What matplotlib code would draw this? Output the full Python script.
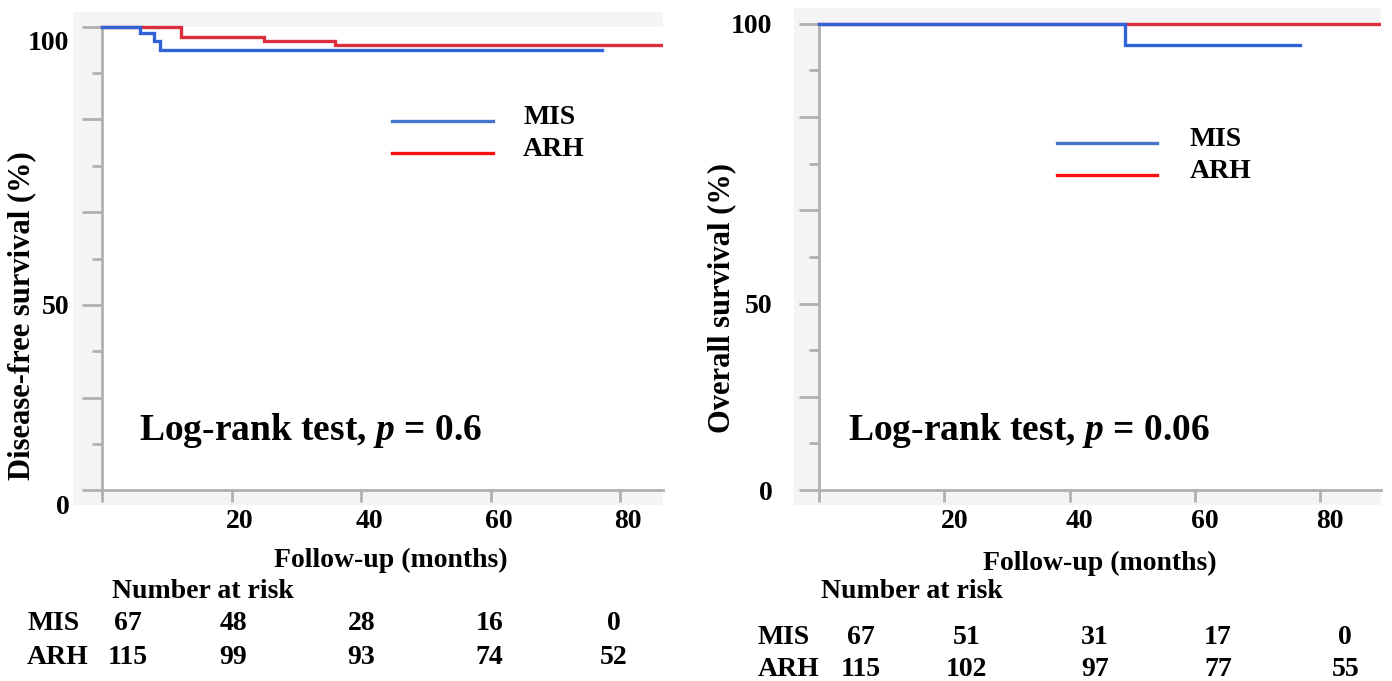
import matplotlib
matplotlib.use("Agg")
import matplotlib.pyplot as plt
from matplotlib.lines import Line2D
from matplotlib.patches import Rectangle
from matplotlib.transforms import ScaledTranslation, blended_transform_factory

plt.rcParams["font.family"] = ["Liberation Serif", "DejaVu Serif"]
plt.rcParams["font.weight"] = "bold"
plt.rcParams["mathtext.fontset"] = "custom"
plt.rcParams["mathtext.it"] = "Liberation Serif:italic:bold"
plt.rcParams["mathtext.rm"] = "Liberation Serif:bold"

# ---- data -------------------------------------------------------------
groups = ["MIS", "ARH"]
risk_times = [0, 20, 40, 60, 80]

# Disease-free survival (left)
dfs_mis_t = [0, 5.8, 8.0, 9.0, 77.2]
dfs_mis_s = [100, 98.6, 97.0, 95.0, 95.0]
dfs_arh_t = [0, 12.2, 25.0, 36.0, 86.6]
dfs_arh_s = [100, 97.9, 97.0, 96.0, 96.0]
dfs_risk_mis = [67, 48, 28, 16, 0]
dfs_risk_arh = [115, 99, 93, 74, 52]
dfs_p = "0.6"

# Overall survival (right)
os_mis_t = [0, 48.8, 76.8]
os_mis_s = [100, 95.5, 95.5]
os_arh_t = [0, 89.7]
os_arh_s = [100, 100]
os_risk_mis = [67, 51, 31, 17, 0]
os_risk_arh = [115, 102, 97, 77, 55]
os_p = "0.06"

y_ticks = [0, 20, 40, 60, 80, 100]
y_labels = ["0", "", "50", "", "", "100"]
x_ticks = [0, 20, 40, 60, 80]
x_labels = ["", "20", "40", "60", "80"]

# ---- style -------------------------------------------------------------
W, H = 1392, 681
BLUE = "#2f63d6"
RED = "#dc2f3e"
LEG_BLUE = "#4676c9"
LEG_RED = "#ff1010"
AXIS = "#b0b0b0"
BG = "#f4f4f4"
FS = 20


def fx(px):
    return px / W


def fy(py):
    return 1 - py / H


fig = plt.figure(figsize=(W / 100, H / 100), dpi=100)


def panel(rect, xlim, ylim, curves, risk, p_text, ylabel, cfg):
    ax = fig.add_axes(rect)
    ax.set_facecolor(BG)
    ax.set_xlim(*xlim)
    ax.set_ylim(*ylim)
    ax.add_patch(Rectangle((0, 0), xlim[1], 100, facecolor="white", edgecolor="none", zorder=0))

    for t, s, c, z in curves:
        ax.plot(t, s, drawstyle="steps-post", color=c, lw=2.4, zorder=z, solid_joinstyle="miter")

    for side in ["top", "right"]:
        ax.spines[side].set_visible(False)
    for side in ["left", "bottom"]:
        ax.spines[side].set_position(("data", 0))
        ax.spines[side].set_color(AXIS)
        ax.spines[side].set_linewidth(2)
    ax.spines["left"].set_bounds(0, 100)
    ax.spines["bottom"].set_bounds(0, xlim[1])

    ax.set_yticks(y_ticks, y_labels)
    ax.set_yticks([10, 30, 50, 70, 90], minor=True)
    ax.set_xticks(x_ticks, x_labels)
    ax.tick_params(axis="y", which="major", length=14.5, width=2, color=AXIS,
                   direction="out", pad=cfg["ypad"], labelsize=FS)
    ax.tick_params(axis="y", which="minor", length=7, width=2, color=AXIS, direction="out")
    ax.tick_params(axis="x", which="major", length=8.5, width=2, color=AXIS,
                   direction="out", pad=5, labelsize=FS)
    for lab in ax.get_xticklabels():
        lab.set_transform(lab.get_transform() + ScaledTranslation(cfg["xshift"] / 100, 0, fig.dpi_scale_trans))
    for lab in ax.get_yticklabels():
        if lab.get_text() in ("0", "100"):
            lab.set_transform(lab.get_transform() + ScaledTranslation(0, -cfg["yshift"] / 100, fig.dpi_scale_trans))

    # axis labels
    fig.text(fx(cfg["xlab"][0]), fy(cfg["xlab"][1]), "Follow-up (months)", ha="center", va="center", fontsize=FS)
    fig.text(fx(cfg["ylab"][0]), fy(cfg["ylab"][1]), ylabel, ha="center", va="center", rotation=90, fontsize=22)

    # log-rank
    fig.text(fx(cfg["lr"][0]), fy(cfg["lr"][1]), "Log-rank test, $p$ = " + p_text,
             ha="left", va="center", fontsize=27)

    # legend
    lx0, lx1, ly = cfg["leg"]
    for i, (g, c) in enumerate(zip(groups, [LEG_BLUE, LEG_RED])):
        yy = ly + i * cfg["leg_dy"]
        fig.add_artist(Line2D([fx(lx0), fx(lx1)], [fy(yy), fy(yy)], color=c, lw=2.4, transform=fig.transFigure))
        fig.text(fx(cfg["leg_text"]), fy(yy - 3), g, ha="left", va="center", fontsize=FS)

    # number at risk
    fig.text(fx(cfg["nar"][0]), fy(cfg["nar"][1]), "Number at risk", ha="left", va="center", fontsize=FS)
    tr = blended_transform_factory(ax.transData, fig.transFigure)
    for g, counts, ry in zip(groups, risk, cfg["rows"]):
        fig.text(fx(cfg["row_x"]), fy(ry), g, ha="left", va="center", fontsize=FS)
        for t, n, cx in zip(risk_times, counts, cfg["cols"]):
            ax.text(cx, fy(ry), str(n), transform=tr, ha="center", va="center", fontsize=FS, clip_on=False)
    return ax


left_cfg = dict(
    ypad=9, xshift=8, yshift=14,
    xlab=(391, 560), ylab=(22, 316), lr=(139, 430),
    leg=(392, 493, 121), leg_dy=32, leg_text=523,
    nar=(112, 591), rows=(623, 657), row_x=27,
    cols=[4.0, 20.2, 40.0, 59.8, 79.0],
)
right_cfg = dict(
    ypad=19, xshift=10, yshift=0,
    xlab=(1100, 563), ylab=(722, 298), lr=(848, 430),
    leg=(1057, 1157, 143), leg_dy=32, leg_text=1190,
    nar=(821, 591), rows=(637, 670), row_x=758,
    cols=[6.7, 23.6, 44.0, 63.7, 84.0],
)

panel([fx(73), fy(505), fx(663) - fx(73), fy(12) - fy(505)],
      (-4.5, 86.6), (-3.2, 103.2),
      [(dfs_arh_t, dfs_arh_s, RED, 2), (dfs_mis_t, dfs_mis_s, BLUE, 3)],
      [dfs_risk_mis, dfs_risk_arh], dfs_p, "Disease-free survival (%)", left_cfg)

panel([fx(794), fy(505), fx(1381) - fx(794), fy(8) - fy(505)],
      (-4.0, 89.7), (-3.2, 103.4),
      [(os_arh_t, os_arh_s, RED, 2), (os_mis_t, os_mis_s, BLUE, 3)],
      [os_risk_mis, os_risk_arh], os_p, "Overall survival (%)", right_cfg)

fig.savefig("out.png", dpi=100)
